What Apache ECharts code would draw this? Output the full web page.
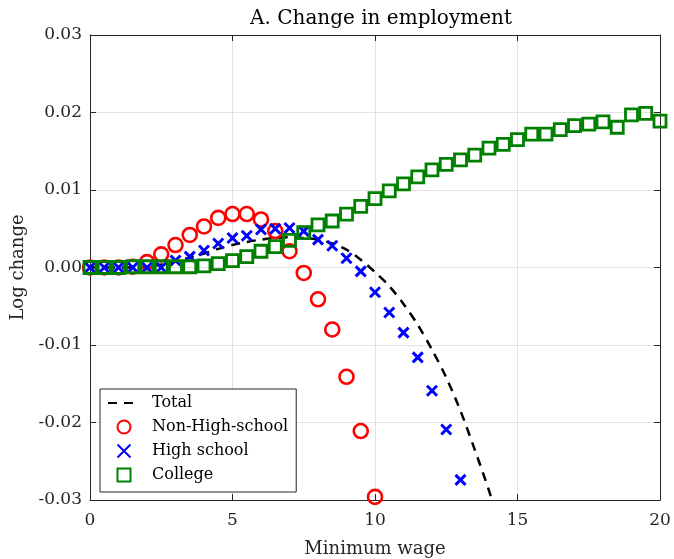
<!DOCTYPE html>
<html>
<head>
<meta charset="utf-8">
<script src="https://cdn.jsdelivr.net/npm/echarts@6/dist/echarts.min.js"></script>
<style>
  html, body { margin: 0; padding: 0; background: #fff; }
  #chart { width: 674px; height: 559px; }
</style>
</head>
<body>
<div id="chart"></div>
<script>
// Minimum wage grid (step 0.5)
const wageStep = 0.5;

// Log change in employment by group
const totalValues = [0, 0, 0, 0, 0.0001, 0.0004, 0.0008, 0.0013, 0.0018, 0.0024,
  0.0029, 0.0033, 0.0036, 0.0038, 0.0039, 0.0038, 0.0036, 0.0031, 0.0023, 0.0010,
  -0.0006, -0.0024, -0.0047, -0.0074, -0.0106, -0.0142, -0.0185, -0.0235, -0.0288, -0.0345];

const nonHighSchoolValues = [0, 0, 0, 0.0001, 0.0007, 0.0017, 0.0029, 0.0042, 0.0053, 0.0064,
  0.0069, 0.0069, 0.0062, 0.0047, 0.0021, -0.0007, -0.0041, -0.0080, -0.0141, -0.0211, -0.0296];

const highSchoolValues = [0, 0, 0, 0, 0, 0, 0.0009, 0.0014, 0.0022, 0.0031,
  0.0038, 0.0041, 0.0049, 0.0050, 0.0051, 0.0047, 0.0036, 0.0028, 0.0012, -0.0005,
  -0.0032, -0.0058, -0.0084, -0.0116, -0.0159, -0.0209, -0.0274];

const collegeValues = [0, 0, 0, 0.0001, 0.0001, 0.0001, 0.0001, 0.0001, 0.0002, 0.0005,
  0.0009, 0.0014, 0.0021, 0.0027, 0.0035, 0.0045, 0.0055, 0.0060, 0.0069, 0.0079,
  0.0089, 0.0099, 0.0108, 0.0117, 0.0126, 0.0133, 0.0139, 0.0145, 0.0154, 0.0159,
  0.0165, 0.0172, 0.0172, 0.0178, 0.0183, 0.0185, 0.0188, 0.0181, 0.0197, 0.0199, 0.0189];

// Axis ticks
const xTicks = [0, 5, 10, 15, 20];
const yTicks = [-0.03, -0.02, -0.01, 0.00, 0.01, 0.02, 0.03];

const seriesNames = ['Total', 'Non-High-school', 'High school', 'College'];

function pairs(values) {
  return values.map((v, i) => [i * wageStep, v]);
}

const FONT = '"DejaVu Serif", "Liberation Serif", serif';
const INK = '#262626';
const crossPath = 'path://M0,0L10,10M10,0L0,10';
const squarePath = 'path://M0,0L10,0L10,10L0,10Z';

const chart = echarts.init(document.getElementById('chart'), null, { renderer: 'canvas' });

const axisCommon = {
  type: 'value',
  axisLine: { show: true, onZero: false, lineStyle: { color: INK, width: 1 } },
  axisTick: { show: true, inside: true, length: 6, lineStyle: { color: INK, width: 1 } },
  splitLine: { show: false }
};

chart.setOption({
  animation: false,
  backgroundColor: '#fff',
  title: {
    text: 'A. Change in employment',
    left: 376, top: 4, textAlign: 'center',
    textStyle: { fontFamily: FONT, fontSize: 20, fontWeight: 'normal', color: '#000' }
  },
  grid: { left: 90, right: 14, top: 35, bottom: 59, containLabel: false, outerBoundsMode: 'none' },
  legend: {
    orient: 'vertical',
    left: 100, top: 389,
    padding: [6, 8, 9, 7],
    itemGap: 8,
    itemWidth: 32, itemHeight: 13,
    symbolKeepAspect: true,
    backgroundColor: '#fff',
    borderColor: INK, borderWidth: 1,
    textStyle: { fontFamily: FONT, fontSize: 16, color: '#000', lineHeight: 13, padding: [0, 0, 0, 7] },
    data: [
      { name: seriesNames[0], itemStyle: { opacity: 0 } },
      seriesNames[1], seriesNames[2], seriesNames[3]
    ]
  },
  xAxis: [
    Object.assign({}, axisCommon, {
      min: 0, max: 20, interval: 5,
      name: 'Minimum wage', nameLocation: 'middle', nameGap: 40,
      nameTextStyle: { fontFamily: FONT, fontSize: 18, color: INK },
      axisLabel: { fontFamily: FONT, fontSize: 17, color: INK, margin: 12,
        formatter: v => xTicks.includes(v) ? String(v) : '' },
      splitLine: { show: true, lineStyle: { color: '#e3e3e3', width: 1 } }
    }),
    Object.assign({}, axisCommon, {
      position: 'top', min: 0, max: 20, interval: 5,
      axisLabel: { show: false }
    })
  ],
  yAxis: [
    Object.assign({}, axisCommon, {
      min: -0.03, max: 0.03, interval: 0.01,
      name: 'Log change', nameLocation: 'middle', nameGap: 63,
      nameTextStyle: { fontFamily: FONT, fontSize: 18, color: INK },
      axisLabel: { fontFamily: FONT, fontSize: 17, color: INK, margin: 8,
        formatter: v => {
          const t = yTicks.find(k => Math.abs(k - v) < 1e-9);
          return t === undefined ? '' : t.toFixed(2);
        } },
      splitLine: { show: true, lineStyle: { color: '#e3e3e3', width: 1 } }
    }),
    Object.assign({}, axisCommon, {
      position: 'right', min: -0.03, max: 0.03, interval: 0.01,
      axisLabel: { show: false }
    })
  ],
  series: [
    {
      name: seriesNames[0], type: 'line', data: pairs(totalValues),
      symbol: 'none', smooth: 0.3, clip: true,
      lineStyle: { color: '#000', width: 2.5, type: [9, 7] },
      itemStyle: { color: 'rgba(0,0,0,0)' },
      z: 2
    },
    {
      name: seriesNames[1], type: 'scatter', data: pairs(nonHighSchoolValues),
      symbol: 'circle', symbolSize: 14,
      itemStyle: { color: 'rgba(255,255,255,0)', borderColor: '#ff0000', borderWidth: 2.6, opacity: 1 },
      z: 3
    },
    {
      name: seriesNames[2], type: 'scatter', data: pairs(highSchoolValues),
      symbol: crossPath, symbolSize: 10,
      itemStyle: { color: 'rgba(0,0,0,0)', borderColor: '#0000ff', borderWidth: 3, opacity: 1 },
      z: 4
    },
    {
      name: seriesNames[3], type: 'scatter', data: pairs(collegeValues),
      symbol: squarePath, symbolSize: 12,
      itemStyle: { color: 'rgba(255,255,255,0)', borderColor: '#008000', borderWidth: 2.8, opacity: 1 },
      z: 5
    }
  ]
});
</script>
</body>
</html>
